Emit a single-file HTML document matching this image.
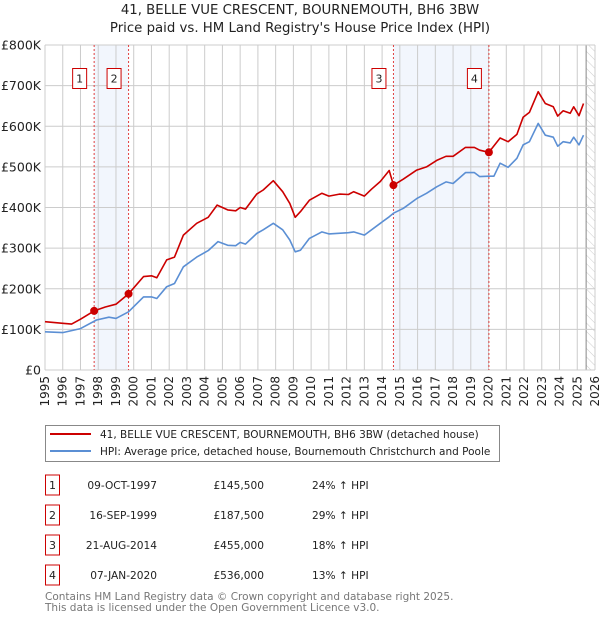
<!DOCTYPE html>
<html><head><meta charset="utf-8"><style>
body{margin:0;background:#fff;width:600px;height:620px;overflow:hidden;font-family:"DejaVu Sans","Liberation Sans",sans-serif}
svg text{font-family:"DejaVu Sans","Liberation Sans",sans-serif}
</style></head><body>
<svg id="chart" width="600" height="620" xmlns="http://www.w3.org/2000/svg">
<defs><pattern id="hatch" width="6" height="6" patternUnits="userSpaceOnUse" patternTransform="rotate(-45)"><line x1="0" y1="0" x2="0" y2="6" stroke="#ccc" stroke-width="1"/></pattern></defs>
<text x="300" y="14" text-anchor="middle" font-size="13.3" fill="#222">41, BELLE VUE CRESCENT, BOURNEMOUTH, BH6 3BW</text>
<text x="300" y="32" text-anchor="middle" font-size="13.3" fill="#222">Price paid vs. HM Land Registry's House Price Index (HPI)</text>
<g id="plot"></g>
<g>
<rect x="45.5" y="425.5" width="454" height="36" fill="#fff" stroke="#888"/>
<line x1="50" y1="434" x2="91" y2="434" stroke="#cc0000" stroke-width="2"/>
<text x="100" y="438" font-size="10.5" fill="#222">41, BELLE VUE CRESCENT, BOURNEMOUTH, BH6 3BW (detached house)</text>
<line x1="50" y1="451" x2="91" y2="451" stroke="#5b8fd4" stroke-width="2"/>
<text x="100" y="455" font-size="10.5" fill="#222">HPI: Average price, detached house, Bournemouth Christchurch and Poole</text>
</g>
<g id="table"></g>
<text x="45" y="600" font-size="10.5" fill="#777">Contains HM Land Registry data © Crown copyright and database right 2025.</text>
<text x="45" y="611" font-size="10.5" fill="#777">This data is licensed under the Open Government Licence v3.0.</text>
</svg>
<script>
const yTicks=[0,100000,200000,300000,400000,500000,600000,700000,800000];
const yTickLabels=["£0","£100K","£200K","£300K","£400K","£500K","£600K","£700K","£800K"];
const xTicks=[1995,1996,1997,1998,1999,2000,2001,2002,2003,2004,2005,2006,2007,2008,2009,2010,2011,2012,2013,2014,2015,2016,2017,2018,2019,2020,2021,2022,2023,2024,2025,2026];
const redYears=[1995,1996,1996.5,1997,1997.77,1998.4,1999,1999.71,2000.55,2001,2001.3,2001.86,2002.3,2002.8,2003.55,2004.2,2004.7,2005.3,2005.75,2006,2006.3,2006.93,2007.3,2007.87,2008.4,2008.8,2009.1,2009.4,2009.9,2010.6,2011,2011.6,2012.1,2012.4,2013,2013.4,2013.9,2014.4,2014.64,2015.2,2015.95,2016.5,2017.08,2017.6,2018,2018.7,2019.2,2019.5,2020.02,2020.65,2021.1,2021.6,2021.95,2022.3,2022.8,2023.2,2023.65,2023.9,2024.2,2024.6,2024.8,2025.1,2025.35];
const redValues=[119000,115000,113000,125000,145500,155000,162000,187500,230000,232000,227000,271000,278000,332000,361000,376000,406000,394000,392000,400000,396000,433000,443000,466000,439000,410000,376000,390000,418000,435000,428000,433000,432000,439000,428000,445000,464000,491000,455000,470000,492000,500000,516000,526000,526000,548000,548000,541000,536000,571000,562000,580000,622000,634000,685000,656000,648000,625000,638000,632000,648000,626000,656000];
const blueYears=[1995,1996,1997,1997.9,1998.6,1999,1999.7,2000.55,2001,2001.3,2001.86,2002.3,2002.8,2003.55,2004.2,2004.75,2005.3,2005.75,2006,2006.3,2006.93,2007.3,2007.87,2008.4,2008.8,2009.1,2009.4,2009.9,2010.6,2011,2012.1,2012.4,2013,2013.9,2014.4,2014.64,2015.2,2015.95,2016.5,2017.08,2017.6,2018,2018.7,2019.2,2019.5,2020.02,2020.3,2020.65,2021.1,2021.6,2021.95,2022.3,2022.8,2023.2,2023.65,2023.9,2024.2,2024.6,2024.8,2025.1,2025.35];
const blueValues=[94000,92000,102000,123000,130000,127000,143000,180000,180000,176000,205000,213000,254000,278000,294000,316000,307000,306000,314000,310000,336000,345000,361000,345000,320000,291000,295000,324000,340000,335000,338000,340000,332000,361000,377000,386000,398000,422000,435000,451000,463000,459000,486000,486000,476000,477000,477000,509000,499000,521000,554000,562000,607000,578000,573000,551000,562000,559000,573000,554000,578000];
const saleYears=[1997.77,1999.71,2014.64,2020.02];
const saleValues=[145500,187500,455000,536000];
const saleLabels=["1","2","3","4"];
const saleDates=["09-OCT-1997","16-SEP-1999","21-AUG-2014","07-JAN-2020"];
const salePrices=["£145,500","£187,500","£455,000","£536,000"];
const saleHpi=["24% ↑ HPI","29% ↑ HPI","18% ↑ HPI","13% ↑ HPI"];

const L=45,R=595,T=45,B=370,X0=1995,X1=2026,YMAX=800000;
const sx=y=>L+(y-X0)/(X1-X0)*(R-L);
const sy=v=>B-v/YMAX*(B-T);
const NS="http://www.w3.org/2000/svg";
const plot=document.getElementById('plot');
function mk(tag,attrs,parent){const e=document.createElementNS(NS,tag);for(const k in attrs)e.setAttribute(k,attrs[k]);(parent||plot).appendChild(e);return e;}

let s1=mk('rect',{x:sx(saleYears[0]),y:T,width:sx(saleYears[1])-sx(saleYears[0]),height:B-T,fill:'#eef3fc',opacity:0.75});


let s2=mk('rect',{x:sx(saleYears[2]),y:T,width:sx(saleYears[3])-sx(saleYears[2]),height:B-T,fill:'#eef3fc',opacity:0.75});


let h=mk('rect',{x:sx(2025.5),y:T,width:R-sx(2025.5),height:B-T,fill:'url(#hatch)'});


mk('line',{x1:sx(2025.5),x2:sx(2025.5),y1:T,y2:B,stroke:'#888','stroke-width':1});

xTicks.forEach(y=>{
  const g=mk('line',{x1:sx(y),x2:sx(y),y1:T,y2:B,stroke:'#ccc','stroke-width':1});
  
  
  const t=mk('text',{x:0,y:0,'font-size':12,fill:'#222','text-anchor':'end',transform:`translate(${sx(y)+4},${B+6}) rotate(-90)`});
  t.textContent=y;
  
  
});
yTicks.forEach((v,i)=>{
  const g=mk('line',{x1:L,x2:R,y1:sy(v),y2:sy(v),stroke:'#ccc','stroke-width':1});
  
  
  const t=mk('text',{x:L-4,y:sy(v)+4.5,'font-size':12.5,fill:'#222','text-anchor':'end'});
  t.textContent=yTickLabels[i];
  
  
});

saleYears.forEach((y,i)=>{
  const l=mk('line',{x1:sx(y),x2:sx(y),y1:T,y2:B,stroke:'#e04040','stroke-width':1,'stroke-dasharray':'2,2'});
  
  
  const b=mk('rect',{x:sx(y)-21.5,y:68.5,width:14,height:20,fill:'#fff',stroke:'#cc0000'});
  
  
  const t=mk('text',{x:sx(y)-14.5,y:82.5,'font-size':11,fill:'#222','text-anchor':'middle'});
  t.textContent=saleLabels[i];
});

function path(xs,vs,color,name){
  const d=xs.map((y,i)=>(i?'L':'M')+sx(y).toFixed(1)+','+sy(vs[i]).toFixed(1)).join('');
  const p=mk('path',{d:d,fill:'none',stroke:color,'stroke-width':1.6,'stroke-linejoin':'round'});
  
  
}
path(blueYears,blueValues,'#5b8fd4','hpi-line');
path(redYears,redValues,'#cc0000','price-paid-line');
saleYears.forEach((y,i)=>{
  const c=mk('circle',{cx:sx(y),cy:sy(saleValues[i]),r:4,fill:'#cc0000'});
  
  
});

const tbl=document.getElementById('table');
saleLabels.forEach((lab,i)=>{
  const yc=485+i*30;
  const b=mk('rect',{x:45.5,y:yc-10,width:14,height:20,fill:'#fff',stroke:'#cc0000'},tbl);
  
  
  const t0=mk('text',{x:52.5,y:yc+4,'font-size':11,fill:'#222','text-anchor':'middle'},tbl);t0.textContent=lab;
  const t1=mk('text',{x:157,y:yc+4,'font-size':10.6,fill:'#222','text-anchor':'end'},tbl);t1.textContent=saleDates[i];
  
  
  const t2=mk('text',{x:264,y:yc+4,'font-size':10.6,fill:'#222','text-anchor':'end'},tbl);t2.textContent=salePrices[i];
  
  
  const t3=mk('text',{x:312,y:yc+4,'font-size':10.6,fill:'#222'},tbl);t3.textContent=saleHpi[i];
  
  
});
</script>
</body></html>
